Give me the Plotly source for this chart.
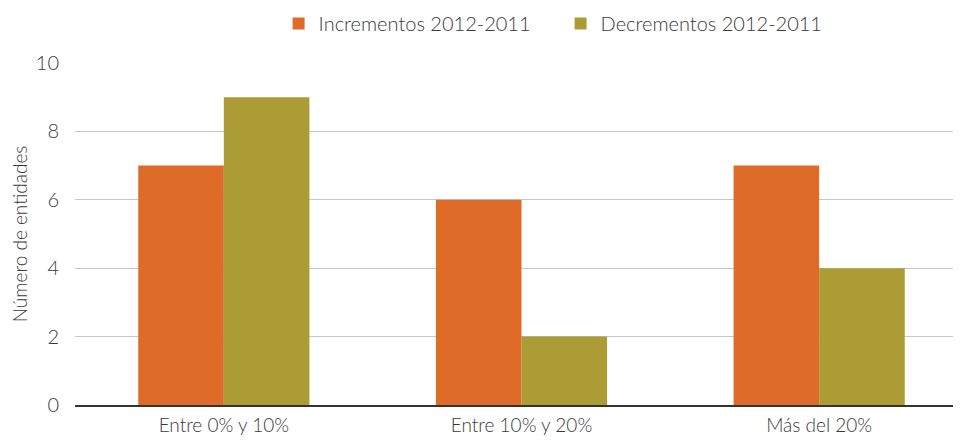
import plotly.graph_objects as go

categories = ["Entre 0% y 10%", "Entre 10% y 20%", "Más del 20%"]
incrementos = [7, 6, 7]
decrementos = [9, 2, 4]
series_names = ["Incrementos 2012-2011", "Decrementos 2012-2011"]
y_ticks = [0, 2, 4, 6, 8, 10]

font_family = "Lato, Open Sans, sans-serif"

fig = go.Figure()
fig.add_trace(go.Bar(x=categories, y=incrementos, name=series_names[0],
                     marker=dict(color="#DE6B28", line=dict(width=0))))
fig.add_trace(go.Bar(x=categories, y=decrementos, name=series_names[1],
                     marker=dict(color="#AC9C35", line=dict(width=0))))

fig.update_layout(
    width=961, height=440,
    margin=dict(l=67, r=1, t=55, b=43, autoexpand=False),
    paper_bgcolor="white", plot_bgcolor="white",
    barmode="group", bargap=0.425, bargroupgap=0,
    font=dict(family=font_family, size=19, color="#3a3a3a", weight=300),
    legend=dict(orientation="h", x=0.228, xanchor="left",
                yref="container", y=0.965, yanchor="middle",
                font=dict(size=20, color="#3a3a3a", weight=300), traceorder="normal",
                itemwidth=30, entrywidth=237),
    xaxis=dict(showgrid=False, ticks="outside", ticklen=2, tickcolor="rgba(0,0,0,0)",
               tickfont=dict(size=19, weight=300), showline=True,
               linecolor="#333333", linewidth=1.5),
    yaxis=dict(range=[0, 10], tickvals=y_ticks, showgrid=True, gridcolor="#c8c8c8",
               gridwidth=1, zeroline=False, ticks="outside", ticklen=11,
               tickcolor="rgba(0,0,0,0)",
               tickfont=dict(size=20, weight=300),
               title=dict(text="Número de entidades", font=dict(size=19, weight=300), standoff=18)),
    showlegend=True,
)

fig.write_html("out.html")
